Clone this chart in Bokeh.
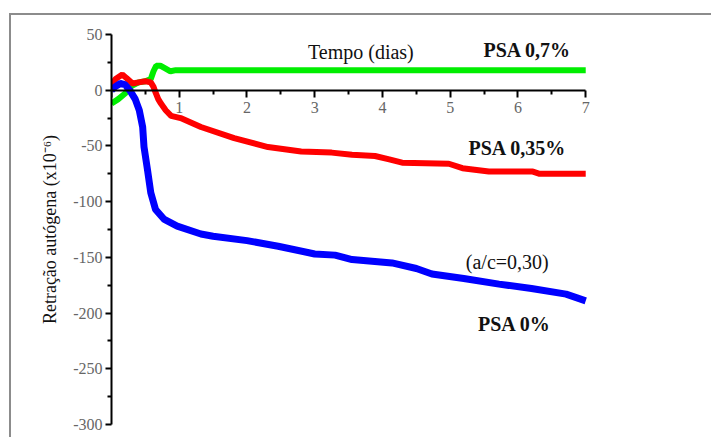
from bokeh.plotting import figure
from bokeh.models import Label, FixedTicker, Range1d
from bokeh.embed import file_html
from bokeh.resources import INLINE

# ---- data ----
green_days = [0, 0.1, 0.2, 0.3, 0.4, 0.5, 0.58, 0.62, 0.66, 0.72, 0.78, 0.87, 0.95, 1.5, 3.0, 5.0, 7.0]
green_vals = [-12, -8, -3, 4, 7, 8, 10, 17, 22, 22, 20, 17, 18, 18, 18, 18, 18]

red_days = [0, 0.06, 0.16, 0.22, 0.31, 0.4, 0.5, 0.58, 0.62, 0.65, 0.69, 0.73, 0.8, 0.88, 1.02, 1.32, 1.81,
            2.31, 2.8, 3.25, 3.55, 3.89, 4.1, 4.29, 4.98, 5.18, 5.57, 6.22, 6.32, 7.0]
red_vals = [5, 10, 14, 11, 6, 7, 8, 7, 3, -2, -8, -12, -18, -23, -25, -33, -43,
            -51, -55, -56, -58, -59, -62, -65, -66, -70, -73, -73, -75, -75]

blue_days = [0, 0.05, 0.13, 0.2, 0.28, 0.35, 0.41, 0.46, 0.48, 0.53, 0.58, 0.65, 0.78, 0.97, 1.32, 1.5,
             2.0, 2.46, 3.0, 3.3, 3.55, 4.14, 4.5, 4.73, 5.2, 5.72, 6.2, 6.71, 7.0]
blue_vals = [0, 3, 6, 5, -1, -8, -18, -33, -51, -71, -92, -107, -116, -122, -129, -131,
             -135, -140, -147, -148, -152, -155, -160, -165, -169, -174, -178, -183, -189]

x_ticks = [0, 1, 2, 3, 4, 5, 6, 7]
x_minor = [0.5, 1.5, 2.5, 3.5, 4.5, 5.5, 6.5]
y_ticks = [50, 0, -50, -100, -150, -200, -250, -300]
y_minor = [25, -25, -75, -125, -175, -225, -275]

FONT = "Liberation Serif"

p = figure(width=702, height=424, output_backend="svg", toolbar_location=None,
           x_range=Range1d(0, 7.1), y_range=Range1d(-300, 50),
           min_border_left=100, min_border_right=121, min_border_top=19, min_border_bottom=15,
           styles={"margin-left": "9px", "margin-top": "13px",
                   "border-left": "2px solid #8c8c8c", "border-top": "2px solid #8c8c8c"})
p.outline_line_color = None
p.grid.visible = False
p.background_fill_color = "white"
p.border_fill_color = "white"

p.line(green_days, green_vals, line_color="#00ee00", line_width=6)
p.line(red_days, red_vals, line_color="#ff0000", line_width=6)
p.line(blue_days, blue_vals, line_color="#0000ff", line_width=7)

# x axis on y = 0
xa = p.xaxis[0]
xa.fixed_location = 0
xa.bounds = (0, 7)
xa.ticker = FixedTicker(ticks=x_ticks, minor_ticks=x_minor)
xa.major_label_overrides = {0: ""}
xa.axis_line_width = 2
xa.major_tick_line_width = 2
xa.minor_tick_line_width = 2
xa.major_tick_in = 0
xa.major_tick_out = 7
xa.minor_tick_in = 0
xa.minor_tick_out = 4
xa.major_label_text_font = FONT
xa.major_label_text_font_size = "16px"
xa.major_label_text_color = "#666666"
xa.major_label_standoff = 5

ya = p.yaxis[0]
ya.ticker = FixedTicker(ticks=y_ticks, minor_ticks=y_minor)
ya.major_label_overrides = {v: str(v) for v in y_ticks}
ya.axis_line_width = 2
ya.major_tick_line_width = 2
ya.minor_tick_line_width = 2
ya.major_tick_in = 0
ya.major_tick_out = 6
ya.minor_tick_in = 0
ya.minor_tick_out = 4
ya.major_label_text_font = FONT
ya.major_label_text_font_size = "16px"
ya.major_label_text_color = "#666666"
ya.major_label_standoff = 3
ya.axis_label = "Retração autógena (x10⁻⁶)"
ya.axis_label_text_font = FONT
ya.axis_label_text_font_style = "normal"
ya.axis_label_text_font_size = "18px"
ya.axis_label_text_color = "#111111"
ya.axis_label_standoff = 10

def add_label(txt, x, y, bold):
    p.add_layout(Label(x=x, y=y, text=txt, text_font=FONT, text_font_size="20px",
                       text_font_style="bold" if bold else "normal",
                       text_color="#111111", text_baseline="alphabetic", text_align="left"))

add_label("Tempo (dias)", 2.9, 34, False)
add_label("PSA 0,7%", 5.49, 36, True)
add_label("PSA 0,35%", 5.27, -52, True)
add_label("(a/c=0,30)", 5.23, -154, False)
add_label("PSA  0%", 5.41, -210, True)

open("out.html", "w").write(file_html(p, INLINE))
